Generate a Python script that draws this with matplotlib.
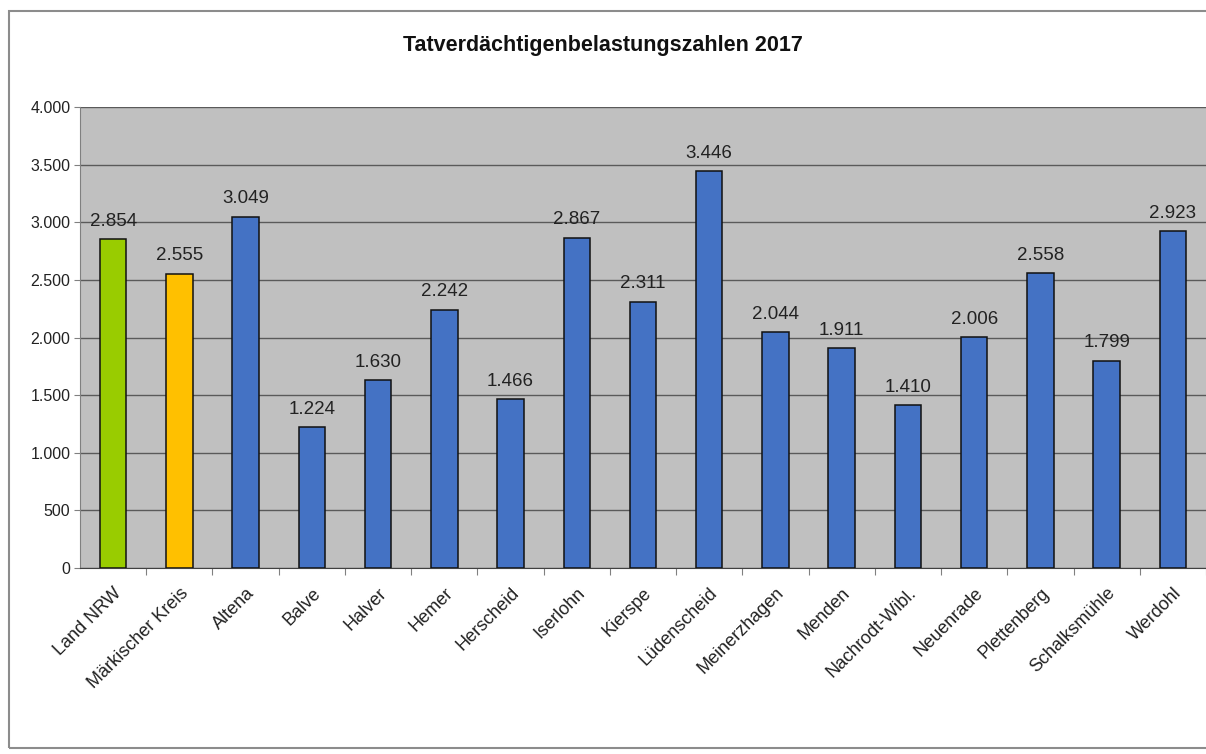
import matplotlib
matplotlib.use("Agg")
import matplotlib.pyplot as plt
from matplotlib.patches import Rectangle
from matplotlib.ticker import FuncFormatter

categories = ["Land NRW", "Märkischer Kreis", "Altena", "Balve", "Halver", "Hemer",
              "Herscheid", "Iserlohn", "Kierspe", "Lüdenscheid", "Meinerzhagen",
              "Menden", "Nachrodt-Wibl.", "Neuenrade", "Plettenberg", "Schalksmühle",
              "Werdohl"]
values = [2854, 2555, 3049, 1224, 1630, 2242, 1466, 2867, 2311, 3446, 2044,
          1911, 1410, 2006, 2558, 1799, 2923]
colors = ["#99CC00", "#FFC000"] + ["#4472C4"] * 15
title = "Tatverdächtigenbelastungszahlen 2017"
yticks = [0, 500, 1000, 1500, 2000, 2500, 3000, 3500, 4000]

plt.rcParams['font.family'] = ['Liberation Sans', 'DejaVu Sans']

W, H = 1206, 754
fig = plt.figure(figsize=(W / 100, H / 100), dpi=100)
fig.patch.set_facecolor("white")
# outer chart frame (right side runs past the image edge)
fig.patches.append(Rectangle((9 / W, 1 - 748 / H), (1260 - 9) / W, (748 - 11) / H,
                             transform=fig.transFigure, fill=False,
                             edgecolor="#8c8c8c", linewidth=1.5))

ax = fig.add_axes([80 / W, 1 - 568 / H, (1206 - 80) / W, (568 - 107) / H])
ax.set_facecolor("#C0C0C0")
x = range(len(categories))
ax.bar(x, values, width=0.40, color=colors, edgecolor="#111111", linewidth=1.1, zorder=3)
ax.set_xlim(-0.5, len(categories) - 0.5)
ax.set_ylim(0, 4000)
ax.set_yticks(yticks)
ax.yaxis.set_major_formatter(FuncFormatter(lambda v, p: f"{int(v):,}".replace(",", ".")))
ax.grid(axis="y", color="#5a5a5a", linewidth=1.0, zorder=1)
ax.set_axisbelow(True)
for s in ["top", "right"]:
    ax.spines[s].set_visible(False)
ax.spines["left"].set_color("#808080")
ax.spines["bottom"].set_color("#404040")
ax.set_xticks([i + 0.5 for i in x], minor=False)
ax.set_xticklabels([])
ax.set_xticks(list(x), minor=True)
ax.set_xticklabels(categories, minor=True, rotation=45, ha="right", rotation_mode="anchor",
                   fontsize=13, color="#222222")
ax.tick_params(axis="x", which="minor", length=0, pad=12)
ax.tick_params(axis="x", which="major", length=5, color="#808080", direction="out")
ax.tick_params(axis="y", labelsize=11.5, length=4, color="#808080", colors="#222222", pad=3)

for xi, v in zip(x, values):
    ax.text(xi, v + 80, f"{v:,}".replace(",", "."), ha="center", va="bottom",
            fontsize=13.5, color="#222222", zorder=4)

fig.text(0.5, 1 - 45 / H, title, ha="center", va="center", fontsize=15.5,
         fontweight="bold", color="#111111")

fig.savefig("out.png", dpi=100)
